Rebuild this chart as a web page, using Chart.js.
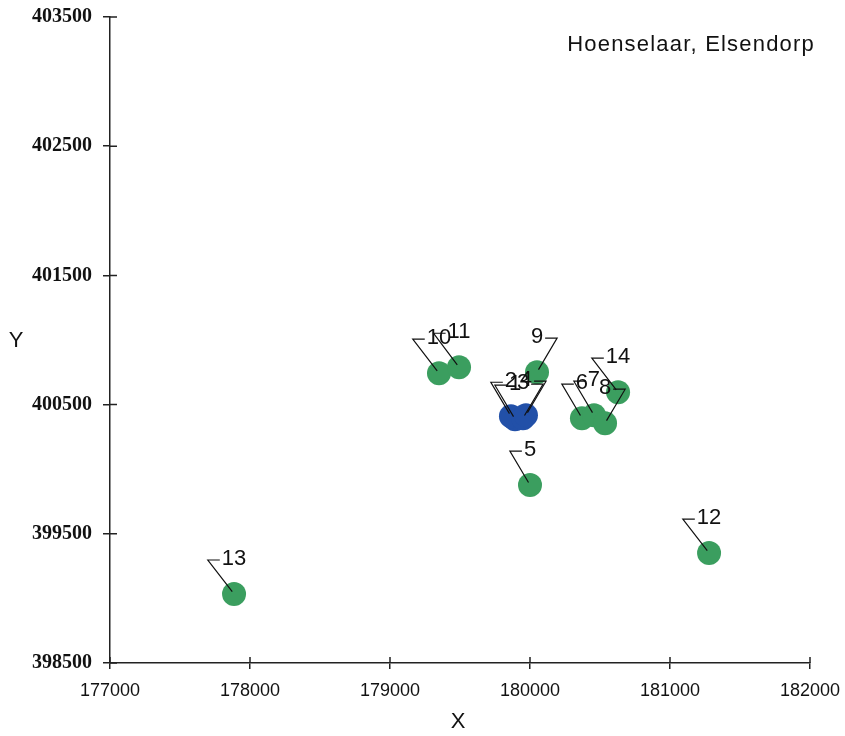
<!DOCTYPE html>
<html>
<head>
<meta charset="utf-8">
<script src="https://cdn.jsdelivr.net/npm/chart.js@4/dist/chart.umd.min.js"></script>
<style>
  html, body { margin: 0; padding: 0; background: #fff; }
  #wrap { width: 845px; height: 736px; position: relative; }
</style>
</head>
<body>
<div id="wrap"><canvas id="chart"></canvas></div>
<script>
const chartTitle = "Hoenselaar, Elsendorp";
const xTitle = "X";
const yTitle = "Y";

const xTicks = [177000, 178000, 179000, 180000, 181000, 182000];
const yTicks = [398500, 399500, 400500, 401500, 402500, 403500];

// blue series: wells 1-4
const blueNames = ["1", "2", "3", "4"];
const blueX = [179893, 179864, 179950, 179971];
const blueY = [400387, 400410, 400395, 400418];

// green series: wells 5-14
const greenNames = ["5", "6", "7", "8", "9", "10", "11", "12", "13", "14"];
const greenX = [180000, 180371, 180457, 180536, 180050, 179350, 179493, 181279, 177886, 180629];
const greenY = [399877, 400395, 400418, 400356, 400751, 400743, 400789, 399351, 399034, 400596];

// which side of the label the leader line leaves from
const rightLeaders = ["3", "4", "8", "9"];

const axisColor = "#222";
const labelFont = "22px 'Liberation Sans', Arial, sans-serif";

function toPoints(xs, ys) {
  return xs.map((x, i) => ({ x: x, y: ys[i] }));
}

const innerTicks = {
  id: "innerTicks",
  afterDraw(chart) {
    const ctx = chart.ctx;
    const area = chart.chartArea;
    const xs = chart.scales.x, ys = chart.scales.y;
    ctx.save();
    ctx.strokeStyle = axisColor;
    ctx.lineWidth = 1.5;
    ctx.beginPath();
    xTicks.forEach(v => {
      const px = xs.getPixelForValue(v);
      ctx.moveTo(px, area.bottom);
      ctx.lineTo(px, area.bottom - 6);
    });
    yTicks.forEach(v => {
      const py = ys.getPixelForValue(v);
      ctx.moveTo(area.left, py);
      ctx.lineTo(area.left + 7, py);
    });
    ctx.stroke();
    ctx.restore();
  }
};

const pointLabels = {
  id: "pointLabels",
  afterDatasetsDraw(chart) {
    const ctx = chart.ctx;
    ctx.save();
    ctx.font = labelFont;
    ctx.textAlign = "center";
    ctx.textBaseline = "middle";
    chart.data.datasets.forEach((ds, di) => {
      const meta = chart.getDatasetMeta(di);
      meta.data.forEach((el, i) => {
        const name = ds.names[i];
        const px = el.x, py = el.y;
        const ty = py - 35;
        const w = ctx.measureText(name).width;
        const right = rightLeaders.includes(name);
        const edge = right ? px + w / 2 + 2 : px - w / 2 - 2;
        const corner = right ? edge + 12 : edge - 12;
        ctx.strokeStyle = "#111";
        ctx.lineWidth = 1.2;
        ctx.beginPath();
        ctx.moveTo(edge, ty + 1);
        ctx.lineTo(corner, ty + 1);
        const dx = px - corner, dy = py - ty;
        const len = Math.sqrt(dx * dx + dy * dy);
        ctx.lineTo(px - dx / len * 3, py - dy / len * 3);
        ctx.stroke();
        ctx.fillStyle = "#111";
        ctx.fillText(name, px, ty);
      });
    });
    ctx.restore();
  }
};

const extraText = {
  id: "extraText",
  afterDraw(chart) {
    const ctx = chart.ctx;
    ctx.save();
    ctx.fillStyle = "#111";
    ctx.textBaseline = "middle";
    ctx.font = "22px 'Liberation Sans', Arial, sans-serif";
    ctx.textAlign = "center";
    ctx.fillText(yTitle, 16, 341);
    ctx.fillText(xTitle, 458, 722);
    ctx.textAlign = "right";
    ctx.letterSpacing = "1.2px";
    ctx.fillText(chartTitle, 815, 45);
    ctx.restore();
  }
};

new Chart(document.getElementById("chart"), {
  type: "scatter",
  data: {
    datasets: [
      {
        names: greenNames,
        data: toPoints(greenX, greenY),
        backgroundColor: "#3b9e5f",
        borderWidth: 0,
        pointRadius: 12,
        pointHoverRadius: 12
      },
      {
        names: blueNames,
        data: toPoints(blueX, blueY),
        backgroundColor: "#2250a8",
        borderWidth: 0,
        pointRadius: 12,
        pointHoverRadius: 12
      }
    ]
  },
  options: {
    responsive: true,
    maintainAspectRatio: false,
    animation: false,
    layout: { padding: { left: 0, top: 17, right: 35, bottom: 0 } },
    plugins: {
      legend: { display: false },
      tooltip: { enabled: false }
    },
    scales: {
      x: {
        type: "linear",
        min: 177000,
        max: 182000,
        afterBuildTicks: scale => { scale.ticks = xTicks.map(v => ({ value: v })); },
        afterFit: scale => {
          scale.height = 73;
          scale.paddingLeft = 0;
          scale.paddingRight = 0;
        },
        grid: { drawOnChartArea: false, drawTicks: true, tickLength: 6, color: axisColor, lineWidth: 1.5 },
        border: { color: axisColor, width: 1.5 },
        ticks: {
          padding: 11,
          color: "#111",
          font: { family: "'Liberation Sans', Arial, sans-serif", size: 18 },
          callback: v => String(v)
        }
      },
      y: {
        type: "linear",
        min: 398500,
        max: 403500,
        afterBuildTicks: scale => { scale.ticks = yTicks.map(v => ({ value: v })); },
        afterFit: scale => {
          scale.width = 110;
          scale.paddingTop = 0;
          scale.paddingBottom = 0;
        },
        grid: { drawOnChartArea: false, drawTicks: true, tickLength: 7, color: axisColor, lineWidth: 1.5 },
        border: { color: axisColor, width: 1.5 },
        ticks: {
          padding: 11,
          color: "#111",
          font: { family: "'Liberation Serif', 'Times New Roman', serif", size: 20, weight: "bold" },
          callback: v => String(v)
        }
      }
    }
  },
  plugins: [innerTicks, pointLabels, extraText]
});
</script>
</body>
</html>
